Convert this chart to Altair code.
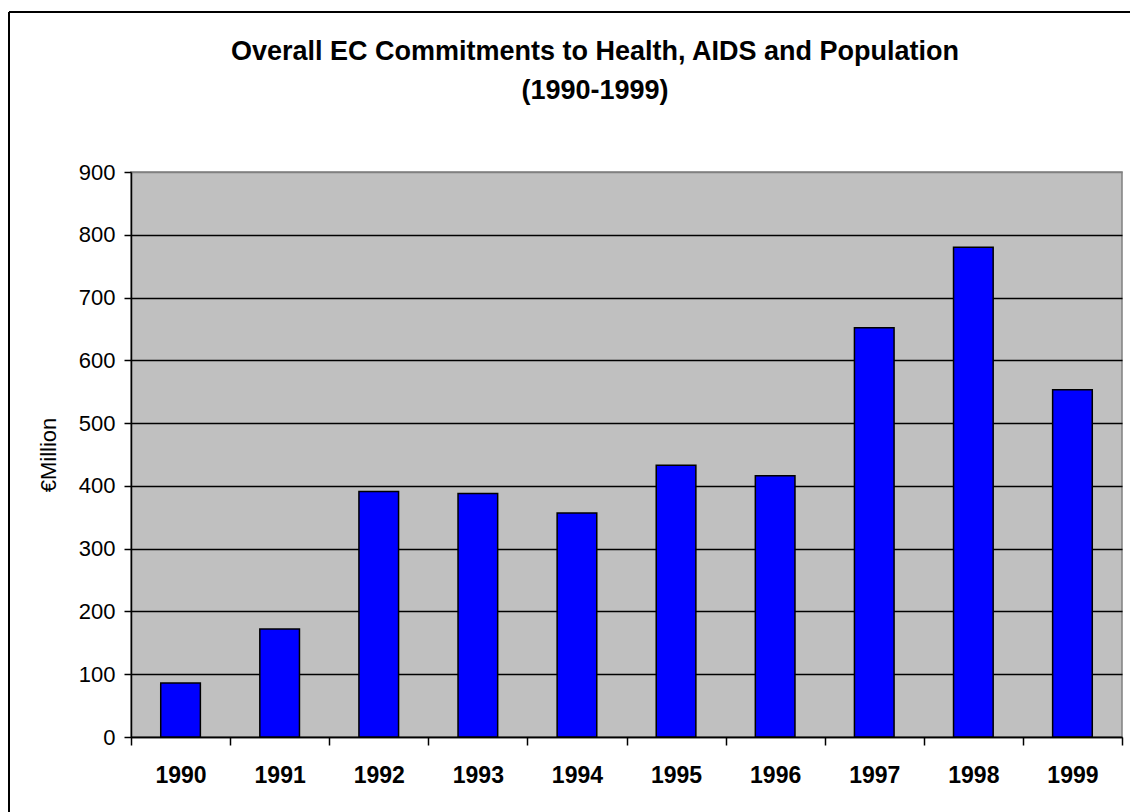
import altair as alt
import pandas as pd

years = ["1990", "1991", "1992", "1993", "1994", "1995", "1996", "1997", "1998", "1999"]
values = [86, 172, 391, 388, 357, 433, 416, 652, 780, 553]
y_ticks = [0, 100, 200, 300, 400, 500, 600, 700, 800, 900]
title_text = "Overall EC Commitments to Health, AIDS and Population\n(1990-1999)"

df = pd.DataFrame({"year": years, "value": values})

FONT = "Liberation Sans"
W, H = 991, 565

base = alt.Chart(df)

bars = base.mark_bar(
    color="#0000FF", stroke="black", strokeWidth=1.5,
    width=alt.RelativeBandSize(0.4)
).encode(
    x=alt.X("year:O", sort=years,
            scale=alt.Scale(paddingInner=0, paddingOuter=0),
            axis=alt.Axis(title=None, labelAngle=0, tickBand="extent", tickSize=8,
                          tickColor="black", tickWidth=1.5, domainColor="black",
                          domainWidth=1.5, labelFont=FONT, labelFontSize=23,
                          labelFontWeight="bold", labelColor="black", labelPadding=19)),
    y=alt.Y("value:Q",
            scale=alt.Scale(domain=[0, 900], nice=False),
            axis=alt.Axis(values=y_ticks, title="€Million", titleFont=FONT,
                          titleFontSize=22, titleFontWeight="normal", titleColor="black",
                          titlePadding=18, labelFont=FONT, labelFontSize=22,
                          labelColor="black", labelPadding=9, tickSize=7,
                          tickColor="black", tickWidth=1.5, domainColor="black",
                          domainWidth=1.5, grid=True,
                          gridColor=alt.condition("datum.value === 900",
                                                  alt.value("#808080"), alt.value("black")),
                          gridWidth=1.3, gridOpacity=1)),
)

title_df = pd.DataFrame({"t": [title_text]})
title = alt.Chart(title_df).mark_text(
    font=FONT, fontSize=27, fontWeight="bold", color="black",
    align="center", baseline="alphabetic", lineBreak="\n", lineHeight=39
).encode(
    text="t:N", x=alt.value(464), y=alt.value(-112)
)

frame_df = pd.DataFrame({"k": [0]})
frame_top = alt.Chart(frame_df).mark_rule(color="black", strokeWidth=2).encode(
    x=alt.value(-122), x2=alt.value(W + 40), y=alt.value(-160)
)
frame_left = alt.Chart(frame_df).mark_rule(color="black", strokeWidth=2).encode(
    x=alt.value(-122), y=alt.value(-160), y2=alt.value(H + 120)
)

chart = alt.layer(bars, title, frame_top, frame_left).properties(
    width=W, height=H,
    autosize=alt.AutoSizeParams(type="none"),
    padding={"left": 131, "top": 172, "right": 8, "bottom": 75},
    background="white",
).configure_view(
    fill="#C0C0C0", stroke="#808080", strokeWidth=1.5
)

chart.save("out.html", embed_options={"renderer": "svg", "actions": False})
